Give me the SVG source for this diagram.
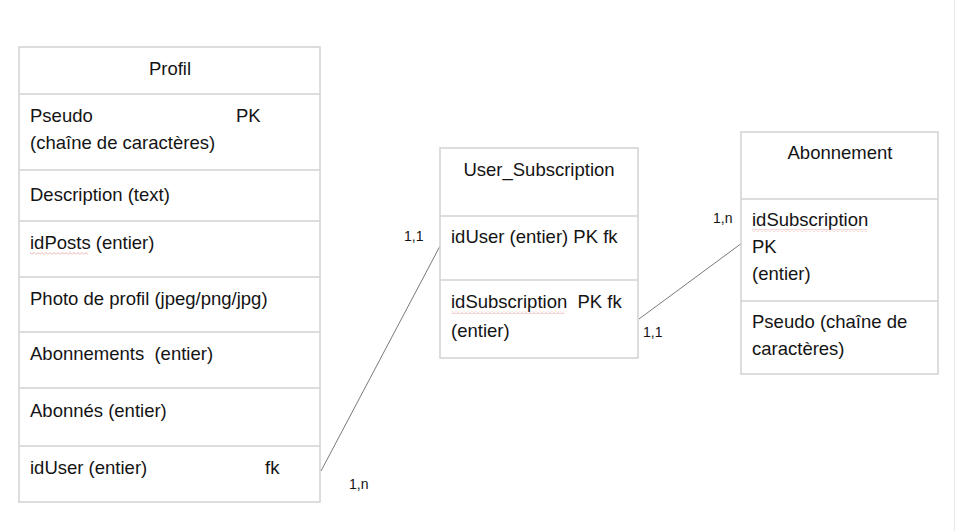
<svg xmlns="http://www.w3.org/2000/svg" width="955" height="531" viewBox="0 0 955 531">
<style>
  text { font-family: "Liberation Sans", Arial, sans-serif; fill: #141414; }
  .t { font-size: 18.5px; }
  .c { text-anchor: middle; }
  .lbl { font-size: 14px; }
  .box { fill: #ffffff; stroke: #d2d2d2; stroke-width: 1.5; }
  .div { stroke: #d2d2d2; stroke-width: 1.5; }
  .conn { stroke: #7a7a7a; stroke-width: 1; fill: none; }
  .spell { fill: url(#wavy); }
</style>
<defs>
  <pattern id="wavy" x="0" y="0" width="4" height="3" patternUnits="userSpaceOnUse">
    <polyline points="0,2.5 2,0.5 4,2.5" fill="none" stroke="#e59a9a" stroke-width="0.8"/>
  </pattern>
</defs>
<rect x="0" y="0" width="955" height="531" fill="#ffffff"/>
<line x1="954.5" y1="0" x2="954.5" y2="531" stroke="#e8e8e8" stroke-width="1"/>

<g id="connectors">
  <line class="conn" x1="321" y1="471" x2="440" y2="246"/>
  <line class="conn" x1="639" y1="319" x2="742" y2="243"/>
  <text class="lbl" x="404" y="241">1,1</text>
  <text class="lbl" x="349" y="489">1,n</text>
  <text class="lbl" x="713" y="223">1,n</text>
  <text class="lbl" x="643" y="337">1,1</text>
</g>

<g id="profil">
  <rect class="box" x="19" y="47" width="301" height="455"/>
  <line class="div" x1="19" y1="94" x2="320" y2="94"/>
  <line class="div" x1="19" y1="170" x2="320" y2="170"/>
  <line class="div" x1="19" y1="221" x2="320" y2="221"/>
  <line class="div" x1="19" y1="277" x2="320" y2="277"/>
  <line class="div" x1="19" y1="332" x2="320" y2="332"/>
  <line class="div" x1="19" y1="388" x2="320" y2="388"/>
  <line class="div" x1="19" y1="446" x2="320" y2="446"/>
  <text class="t c" x="170" y="75">Profil</text>
  <text class="t" x="30" y="122">Pseudo</text>
  <text class="t" x="236" y="122">PK</text>
  <text class="t" x="30" y="149">(chaîne de caractères)</text>
  <text class="t" x="30" y="201">Description (text)</text>
  <text class="t" x="30" y="249">idPosts (entier)</text>
  <rect class="spell" x="30" y="252" width="58" height="3"/>
  <text class="t" x="30" y="305">Photo de profil (jpeg/png/jpg)</text>
  <text class="t" x="30" y="360" xml:space="preserve">Abonnements  (entier)</text>
  <text class="t" x="30" y="417">Abonnés (entier)</text>
  <text class="t" x="30" y="474">idUser (entier)</text>
  <text class="t" x="265" y="474">fk</text>
</g>

<g id="user_subscription">
  <rect class="box" x="440" y="148" width="198" height="210"/>
  <line class="div" x1="440" y1="216" x2="638" y2="216"/>
  <line class="div" x1="440" y1="280" x2="638" y2="280"/>
  <text class="t c" x="539" y="176">User_Subscription</text>
  <text class="t" x="451" y="243">idUser (entier) PK fk</text>
  <text class="t" x="451" y="308" xml:space="preserve">idSubscription  PK fk</text>
  <rect class="spell" x="451" y="311" width="114" height="3"/>
  <text class="t" x="451" y="337">(entier)</text>
</g>

<g id="abonnement">
  <rect class="box" x="741" y="132" width="197" height="242"/>
  <line class="div" x1="741" y1="199" x2="938" y2="199"/>
  <line class="div" x1="741" y1="301" x2="938" y2="301"/>
  <text class="t c" x="840" y="159">Abonnement</text>
  <text class="t" x="752" y="226">idSubscription</text>
  <rect class="spell" x="752" y="229" width="115" height="3"/>
  <text class="t" x="752" y="253">PK</text>
  <text class="t" x="752" y="280">(entier)</text>
  <text class="t" x="752" y="328">Pseudo (chaîne de</text>
  <text class="t" x="752" y="355">caractères)</text>
</g>
</svg>
